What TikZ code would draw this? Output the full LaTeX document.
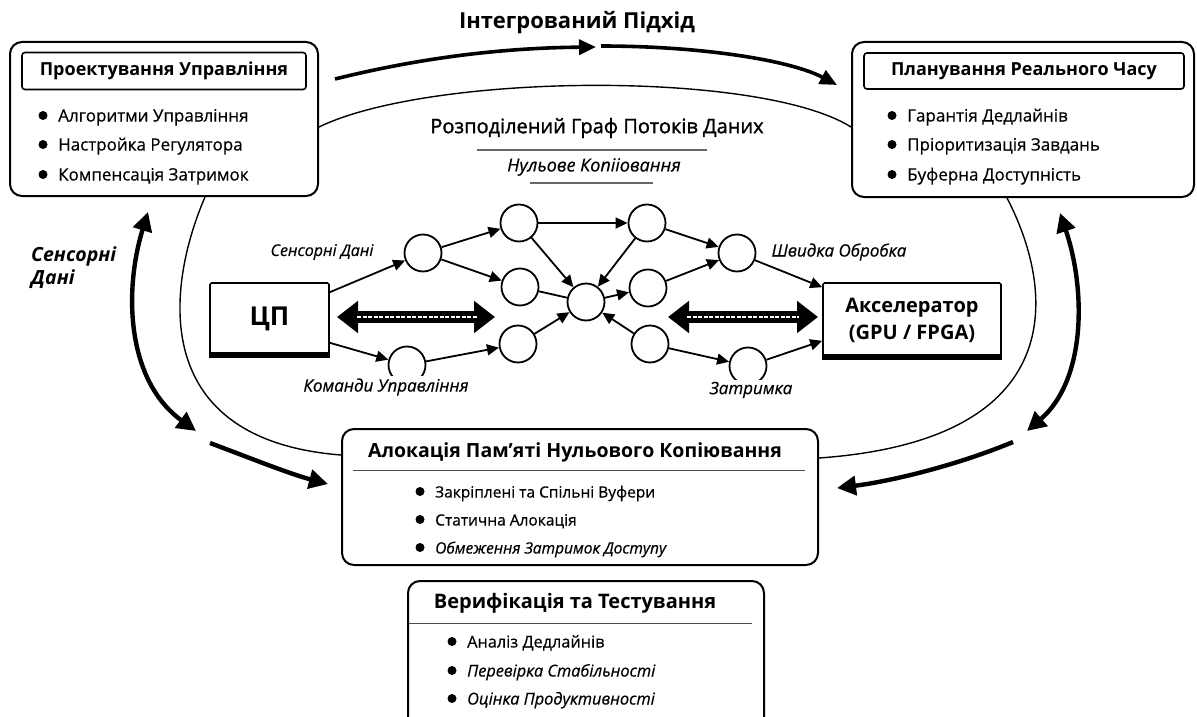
\documentclass[tikz,border=0pt]{standalone}
\usepackage{fontspec}
\setmainfont{Open Sans}[UprightFeatures={FakeBold=0.5},ItalicFeatures={FakeBold=0.5}]
\newfontfamily\semib{Open Sans}[FakeBold=1.4]
\usetikzlibrary{arrows.meta}
\newcommand\fs[1]{\fontsize{#1}{#1}\selectfont}
% bullet point: name, x, y, text (dot centred on y, text set on a baseline below it)
\newcommand\bitem[4]{%
  \fill (#2,#3-0.5) circle[radius=4.5pt];
  \node[itemtext] (#1) at (#2+15,#3+5.5) {#4};}
\begin{document}
\begin{tikzpicture}[x=1pt,y=-1pt,
  outerbox/.style={draw, line width=2pt, rounded corners=12pt, inner sep=0pt},
  titlebox/.style={draw, line width=1.6pt, rounded corners=3pt, inner sep=0pt, font=\fs{18}\bfseries},
  itemtext/.style={anchor=base west, inner sep=0pt, font=\fs{17}},
  smallitem/.style={itemtext/.append style={font=\fs{15.5}}},
  veritem/.style={itemtext/.append style={font=\fs{16.3}}},
  proc/.style={draw, line width=1.6pt, fill=white, rounded corners=1.5pt, inner sep=0pt},
  gnode/.style={circle, draw, line width=1.8pt, minimum size=37pt, inner sep=0pt, fill=white},
  garrow/.style={line width=1.8pt, -{Triangle[length=12pt,width=11pt]}},
  thin/.style={line width=1.4pt},
  bold arrow/.style={line width=3.6pt, -{Triangle[length=17pt,width=15pt]}},
  side arrow/.style={line width=4.4pt, {Triangle[length=19pt,width=19pt]}-{Triangle[length=19pt,width=19pt]}},
  one arrow/.style={line width=4.4pt, -{Triangle[length=19pt,width=19pt]}},
  bigdouble/.style={line width=12pt, {Triangle[length=21pt,width=31pt]}-{Triangle[length=21pt,width=31pt]}},
  glabel/.style={font=\fs{17}\itshape, inner sep=2pt},
  rule/.style={line width=1.1pt, black!60}
]
\path[use as bounding box] (0,0) rectangle (1197,717);
\clip (0,0) rectangle (1197,717);

% ---------- top boxes ----------
\node[outerbox, minimum width=308pt, minimum height=154pt] (tl) at (164,119) {};
\node[titlebox, minimum width=284pt, minimum height=37pt] (tlt) at (164,71) {Проектування Управління};
\bitem{tl1}{43}{116}{Алгоритми Управління}
\bitem{tl2}{43}{145}{Настройка Регулятора}
\bitem{tl3}{43}{175}{Компенсація Затримок}

\node[outerbox, minimum width=342pt, minimum height=155pt] (tr) at (1023,119.5) {};
\node[titlebox, minimum width=320pt, minimum height=36pt] (trt) at (1024,71) {Планування Реального Часу};
\bitem{tr1}{892}{116}{Гарантія Дедлайнів}
\bitem{tr2}{892}{145}{Пріоритизація Завдань}
\bitem{tr3}{892}{175}{Буферна Доступність}

% ---------- integrated approach ----------
\node[font=\fs{22}\bfseries, inner sep=0pt] (top) at (577,23) {Інтегрований Підхід};
\coordinate (ia1) at (335,79);
\coordinate (ia2) at (596,47);
\coordinate (ia3) at (601,46);
\coordinate (ia4) at (837,85);
\draw[bold arrow] (ia1) .. controls (420,58) and (500,48) .. (ia2);
\draw[bold arrow] (ia3) .. controls (700,46) and (790,60) .. (ia4);

% arc between the two top boxes
\draw[thin] ([yshift=-8pt]tl.east) .. controls (430,73) and (760,70) .. ([yshift=-7.5pt]tr.west);

\node[font=\fs{20}\semib, inner sep=0pt] (dfg) at (597,128) {Розподілений Граф Потоків Даних};
\draw[rule] (477,150) -- (707,150);
\node[font=\fs{18}\itshape, inner sep=0pt] (zc) at (594,167) {Нульове Копііовання};
\draw[rule] (530,183) -- (653,183);

% ---------- processors ----------
\node[proc, minimum width=119pt, minimum height=72pt, font=\fs{26}\bfseries] (cpu) at (269.5,319) {ЦП};
\fill ([yshift=4pt]cpu.south west) rectangle ([yshift=-2pt]cpu.south east);
\node[proc, minimum width=178pt, minimum height=74pt, align=center, font=\fontsize{20}{27}\selectfont\bfseries] (acc) at (912,320) {Акселератор\\(GPU / FPGA)};
\fill ([yshift=4pt]acc.south west) rectangle ([yshift=-2pt]acc.south east);

% wide bidirectional links
\coordinate (la1) at (337,317);
\coordinate (la2) at (495,317);
\coordinate (ra1) at (668,317);
\coordinate (ra2) at (818,317);
\draw[bigdouble] (la1) -- (la2);
\draw[white, line width=2.2pt, dash pattern=on 4pt off 1.5pt] ([xshift=20pt]la1) -- ([xshift=-18pt]la2);
\draw[bigdouble] (ra1) -- (ra2);
\draw[white, line width=2.2pt, dash pattern=on 4pt off 1.5pt] ([xshift=19pt]ra1) -- ([xshift=-19pt]ra2);

% ---------- data-flow graph ----------
\node[gnode] (n1) at (423,253) {};
\node[gnode] (n2) at (519,223) {};
\node[gnode] (n3) at (520,287) {};
\node[gnode] (n4) at (586,302) {};
\node[gnode] (n5) at (518,344) {};
\node[gnode] (n6) at (407,365) {};
\node[gnode] (n7) at (647,223) {};
\node[gnode] (n8) at (737,253) {};
\node[gnode] (n9) at (648,288) {};
\node[gnode] (n10) at (650,344) {};
\node[gnode] (n11) at (748,366) {};

\draw[garrow] ([yshift=-10pt]cpu.north east) -- (n1);
\draw[garrow] ([yshift=13pt]cpu.south east) -- (n6);
\draw[garrow] (n1) -- (n2);
\draw[garrow] (n1) -- (n3);
\draw[garrow] (n2) -- (n7);
\draw[garrow] (n2) -- (n4);
\draw[line width=1.8pt] (n3) -- (n4);
\draw[garrow] (n6) -- (n5);
\draw[garrow] (n5) -- (n4);
\draw[garrow] (n7) -- (n4);
\draw[garrow] (n4) -- (n9);
\draw[garrow] (n7) -- (n8);
\draw[garrow] (n9) -- (n8);
\draw[garrow] (n10) -- (n4);
\draw[garrow] (n10) -- (n11);
\draw[garrow] (n8) -- ([yshift=-5pt]acc.north west);
\draw[garrow] (n11) -- ([yshift=17pt]acc.south west);

\node[glabel, font=\fs{16}\itshape] (lsd) at (322,252) {Сенсорні Дані};
\node[glabel] (lfp) at (839,252) {Швидка Обробка};
\node[glabel, fill=white] (lcc) at (386,387) {Команди Управління};
\node[glabel, fill=white] (llat) at (751,390) {Затримка};

% ---------- zero-copy memory ----------
\node[outerbox, minimum width=476pt, minimum height=136pt] (alloc) at (580,497) {};
\node[font=\fs{19.5}\bfseries, inner sep=0pt] (allt) at (575,452) {Алокація Пам'яті Нульового Копіювання};
\draw[line width=0.9pt, black!70] (353,470) -- (805,470);
\begin{scope}[smallitem]
\bitem{al1}{420}{492}{Закріплені та Спільні Вуфери}
\bitem{al2}{420}{520}{Статична Алокація}
\bitem{al3}{420}{548}{\itshape Обмеження Затримок Доступу}
\end{scope}

% big loop from the top boxes into memory
\draw[thin] ([xshift=41pt]tl.south) .. controls (165,290) and (150,440) .. ([yshift=42pt]alloc.west);
\draw[thin] ([xshift=-16pt]tr.south) .. controls (1055,290) and (1072,440) .. ([yshift=39pt]alloc.east);

% side feedback arrows
\coordinate (sl1) at (148,212);
\coordinate (sl2) at (196,431);
\coordinate (sl3) at (210,443);
\coordinate (sl4) at (328,484);
\coordinate (sr1) at (1060,213);
\coordinate (sr2) at (1027,431);
\coordinate (sr3) at (1013,442);
\coordinate (sr4) at (837,488);
\draw[side arrow] (sl1) .. controls (124,290) and (126,380) .. (sl2);
\draw[one arrow] (sl3) .. controls (250,458) and (290,474) .. (sl4);
\draw[side arrow] (sr1) .. controls (1086,290) and (1086,380) .. (sr2);
\draw[one arrow] (sr3) .. controls (950,468) and (885,482) .. (sr4);

\node[font=\fontsize{19.5}{23}\selectfont\bfseries\itshape, align=left, anchor=west, inner sep=0pt] (sens) at (31,268) {Сенсорні\\Дані};

% ---------- verification ----------
\node[outerbox, minimum width=356pt, minimum height=150pt, anchor=north west] (ver) at (407,580) {};
\node[font=\fs{20}\bfseries, inner sep=0pt] (vert) at (575,603) {Верифікація та Тестування};
\draw[line width=0.9pt, black!70] (409,623) -- (752,623);
\begin{scope}[veritem]
\bitem{v1}{452}{642}{Аналіз Дедлайнів}
\bitem{v2}{452}{671}{\itshape Перевірка Стабільності}
\bitem{v3}{452}{699}{\itshape Оцінка Продуктивності}
\end{scope}
\end{tikzpicture}
\end{document}
